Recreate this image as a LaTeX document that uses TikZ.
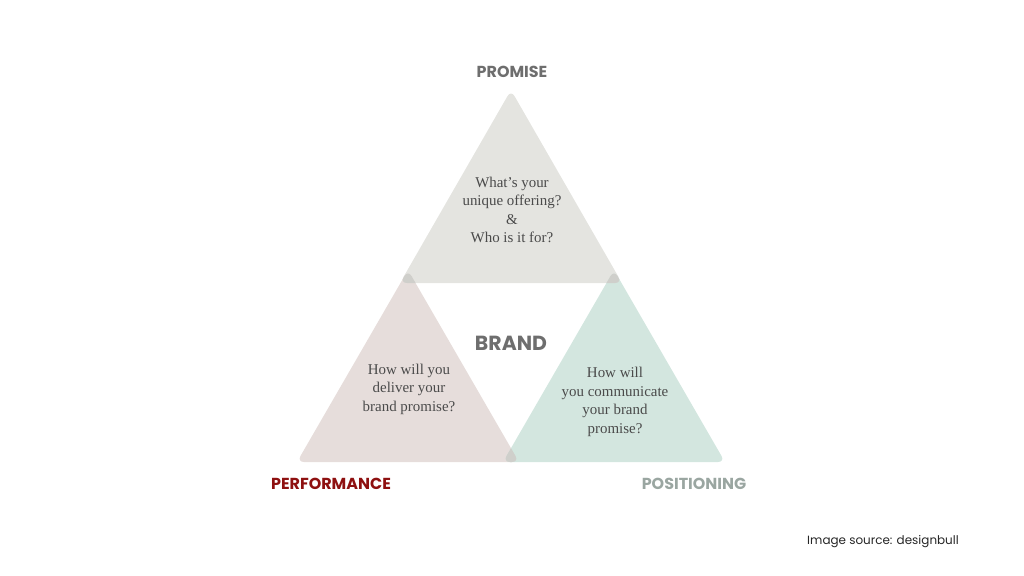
\documentclass[tikz,border=0pt]{standalone}
\usepackage{fontspec}
\setmainfont{Liberation Serif}
\newfontfamily\labelfont{Poppins}[UprightFont=* Bold]
\newfontfamily\capfont{Poppins}
\definecolor{topfill}{HTML}{E4E4E0}
\definecolor{leftfill}{HTML}{E6DDDB}
\definecolor{rightfill}{HTML}{D3E6DF}
\definecolor{ovlfill}{HTML}{CFCFCB}
\definecolor{txtgray}{HTML}{4A4A4A}
\definecolor{labgray}{HTML}{6E6E6E}
\definecolor{perfred}{HTML}{8E1010}
\definecolor{posgray}{HTML}{9AA6A1}
\begin{document}
\begin{tikzpicture}[x=1bp,y=-1bp,
  tri/.style={rounded corners=7bp},
  body/.style={align=center,text=txtgray,font=\fontsize{15}{18.5}\selectfont},
  lab/.style={font=\labelfont\fontsize{16}{18}\selectfont}]
\useasboundingbox (0,0) rectangle (1024,576);
\def\toptri{(511,90) -- (622,283) -- (400,283) -- cycle}
\def\lefttri{(408,270) -- (519,462) -- (297,462) -- cycle}
\def\righttri{(614,270) -- (725,462) -- (503,462) -- cycle}
\fill[topfill,tri] \toptri;
\fill[leftfill,tri] \lefttri;
\fill[rightfill,tri] \righttri;
\begin{scope}
\clip[tri] \toptri;
\fill[ovlfill,tri] \lefttri;
\fill[ovlfill,tri] \righttri;
\end{scope}
\begin{scope}
\clip[tri] \lefttri;
\fill[ovlfill,tri] \righttri;
\end{scope}
\node[body] (qtop) at (512,210) {What's your\\unique offering?\\\&\\Who is it for?};
\node[body] (qleft) at (409,389) {How will you\\deliver your\\brand promise?};
\node[body] (qright) at (615,402) {How will\\you communicate\\your brand\\promise?};
\node[lab,text=labgray] (promise) at (512,72) {PROMISE};
\node[font=\labelfont\fontsize{20.5}{24}\selectfont,text=labgray] (brand) at (511,343) {BRAND};
\node[lab,text=perfred] (perf) at (331,484) {PERFORMANCE};
\node[lab,text=posgray] (pos) at (694,484) {POSITIONING};
\node[font=\capfont\fontsize{12}{14}\selectfont,text=black!85] (src) at (883,542) {Image source: designbull};
\end{tikzpicture}
\end{document}
